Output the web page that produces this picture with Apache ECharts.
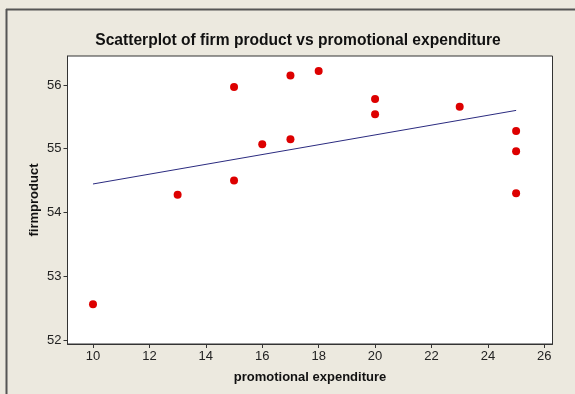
<!DOCTYPE html>
<html>
<head>
<meta charset="utf-8">
<script src="https://cdn.jsdelivr.net/npm/echarts@6/dist/echarts.min.js"></script>
<style>
  html, body { margin: 0; padding: 0; background: #ECE9DF; }
  #chart { width: 575px; height: 394px; }
</style>
</head>
<body>
<div id="chart"></div>
<script>
// promotional expenditure (x) and firm product (y) for each observation
const expenditure = [10, 13, 15, 15, 16, 17, 17, 18, 20, 20, 23, 25, 25, 25];
const firmProduct = [52.56, 54.28, 55.97, 54.50, 55.07, 56.15, 55.15, 56.22, 55.78, 55.54, 55.66, 55.28, 54.96, 54.30];
const xTicks = [10, 12, 14, 16, 18, 20, 22, 24, 26];
const yTicks = [52, 53, 54, 55, 56];

// least-squares fit line across the observed x range
function fitLine(xs, ys) {
  const n = xs.length;
  const mx = xs.reduce((a, b) => a + b, 0) / n;
  const my = ys.reduce((a, b) => a + b, 0) / n;
  let sxy = 0, sxx = 0;
  for (let i = 0; i < n; i++) {
    sxy += (xs[i] - mx) * (ys[i] - my);
    sxx += (xs[i] - mx) * (xs[i] - mx);
  }
  const slope = sxy / sxx;
  const x0 = Math.min(...xs), x1 = Math.max(...xs);
  return [[x0, my + slope * (x0 - mx)], [x1, my + slope * (x1 - mx)]];
}

const points = expenditure.map((x, i) => [x, firmProduct[i]]);
const fit = fitLine(expenditure, firmProduct);

const chart = echarts.init(document.getElementById('chart'), null, { renderer: 'canvas' });
const font = '"Liberation Sans", Arial, sans-serif';

chart.setOption({
  backgroundColor: '#ECE9DF',
  animation: false,
  title: {
    text: 'Scatterplot of firm product vs promotional expenditure',
    left: 293, top: 28, textAlign: 'center',
    textStyle: { fontFamily: font, fontWeight: 'bold', fontSize: 15.6, color: '#111' }
  },
  graphic: [
    { type: 'line', shape: { x1: 6, y1: 9.5, x2: 575, y2: 9.5 }, style: { stroke: '#555', lineWidth: 2 } },
    { type: 'line', shape: { x1: 6.5, y1: 9, x2: 6.5, y2: 394 }, style: { stroke: '#555', lineWidth: 2 } }
  ],
  grid: {
    left: 67.5, top: 56, right: 22.5, bottom: 50,
    show: true, backgroundColor: '#ffffff', borderColor: '#333', borderWidth: 1
  },
  xAxis: {
    type: 'value', min: 9.096, max: 26.29,
    name: 'promotional expenditure', nameLocation: 'middle', nameGap: 27,
    nameTextStyle: { fontFamily: font, fontWeight: 'bold', fontSize: 13, color: '#111' },
    axisLine: { show: true, onZero: false, lineStyle: { color: '#333' } },
    axisTick: { show: true, length: 4, customValues: xTicks, lineStyle: { color: '#333' } },
    axisLabel: { customValues: xTicks, fontFamily: font, fontSize: 13, color: '#222', margin: 6 },
    splitLine: { show: false }
  },
  yAxis: {
    type: 'value', min: 51.937, max: 56.455,
    name: 'firmproduct', nameLocation: 'middle', nameGap: 27, nameRotate: 90,
    nameMoveOverlap: false,
    nameTextStyle: { fontFamily: font, fontWeight: 'bold', fontSize: 13, color: '#111' },
    axisLine: { show: true, onZero: false, lineStyle: { color: '#333' } },
    axisTick: { show: true, length: 4, customValues: yTicks, lineStyle: { color: '#333' } },
    axisLabel: { customValues: yTicks, fontFamily: font, fontSize: 13, color: '#222', margin: 6 },
    splitLine: { show: false }
  },
  series: [
    {
      type: 'line', data: fit, symbol: 'none', silent: true,
      lineStyle: { color: '#2b2b80', width: 1 }, z: 2
    },
    {
      type: 'scatter', data: points, symbol: 'circle', symbolSize: 8,
      itemStyle: { color: '#dd0000', opacity: 1 }, z: 3
    }
  ]
});
</script>
</body>
</html>
